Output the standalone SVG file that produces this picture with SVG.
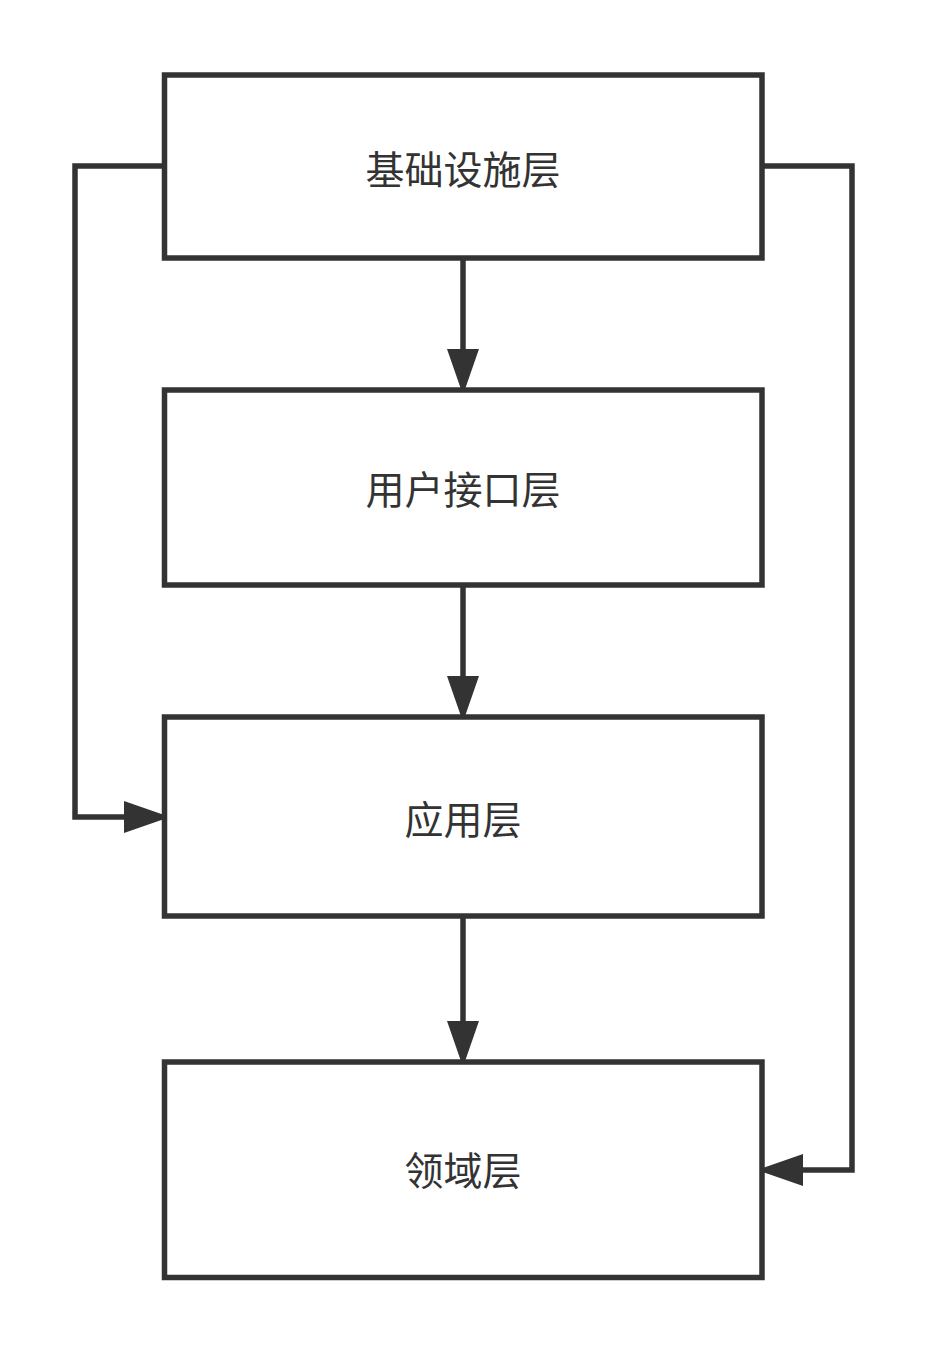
<svg xmlns="http://www.w3.org/2000/svg" width="927" height="1353" viewBox="0 0 927 1353">
<defs>
<style>
.box{fill:#ffffff;stroke:#333333;stroke-width:5.5}
.lbl{font-family:"Noto Sans CJK SC","Noto Sans",sans-serif;font-size:39px;fill:#333333;text-anchor:middle;dominant-baseline:central}
.edge{fill:none;stroke:#333333;stroke-width:5.5;stroke-linejoin:miter;stroke-linecap:butt}
</style>
<marker id="arr" markerUnits="userSpaceOnUse" markerWidth="50" markerHeight="40" refX="0" refY="16" orient="auto" viewBox="0 0 50 40">
<path d="M0,0 L46,16 L0,32 Z" fill="#333333"/>
</marker>
</defs>
<rect width="927" height="1353" fill="#ffffff"/>
<g id="connectors">
<path class="edge" d="M463,258 L463,349" marker-end="url(#arr)"/>
<path class="edge" d="M463,585 L463,676" marker-end="url(#arr)"/>
<path class="edge" d="M463,916 L463,1021" marker-end="url(#arr)"/>
<path class="edge" d="M164,166 L75,166 L75,817 L124,817" marker-end="url(#arr)"/>
<path class="edge" d="M762,166 L852,166 L852,1170 L803,1170" marker-end="url(#arr)"/>
</g>
<g id="node-infra">
<rect class="box" x="164.5" y="75" width="597.5" height="183"/>
<text class="lbl" x="463" y="167">基础设施层</text>
</g>
<g id="node-ui">
<rect class="box" x="164.5" y="390" width="597.5" height="195"/>
<text class="lbl" x="463" y="487">用户接口层</text>
</g>
<g id="node-app">
<rect class="box" x="164.5" y="717" width="597.5" height="199"/>
<text class="lbl" x="463" y="817">应用层</text>
</g>
<g id="node-domain">
<rect class="box" x="164.5" y="1062" width="597.5" height="215.5"/>
<text class="lbl" x="463" y="1168">领域层</text>
</g>
</svg>
